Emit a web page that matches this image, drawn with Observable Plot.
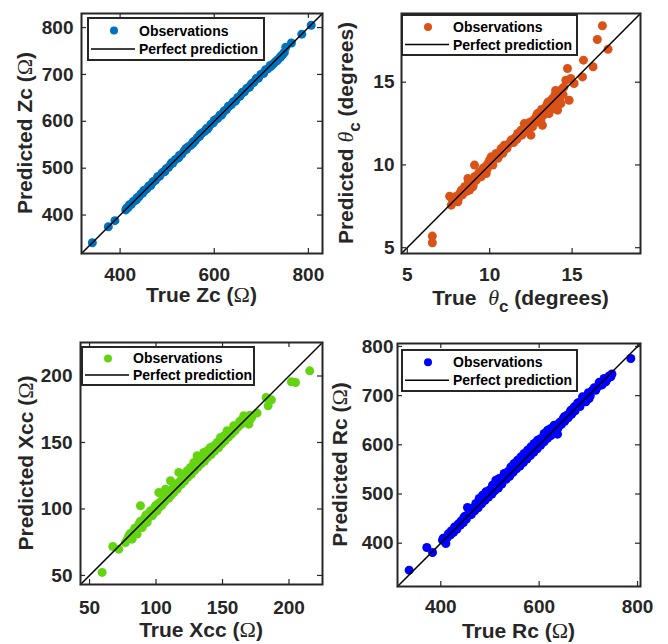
<!DOCTYPE html>
<html>
<head>
<meta charset="utf-8">
<script src="https://cdn.jsdelivr.net/npm/d3@7"></script>
<script src="https://cdn.jsdelivr.net/npm/@observablehq/plot@0.6"></script>
<style>
  html, body { margin: 0; padding: 0; background: #fff; }
  body { width: 668px; height: 644px; position: relative; overflow: hidden; font-family: "Liberation Sans", Arial, sans-serif; }
  .panel { position: absolute; width: 334px; height: 322px; }
  .panel svg { overflow: visible; }
</style>
</head>
<body>
<div id="p1" class="panel" style="left:0;top:0"></div>
<div id="p2" class="panel" style="left:334px;top:0"></div>
<div id="p3" class="panel" style="left:0;top:322px"></div>
<div id="p4" class="panel" style="left:334px;top:322px"></div>
<script>
// ---------------- DATA ----------------
// Panel 1: Zc (Ω)
const zcTrue = [341, 375, 389, 412, 414, 417, 420, 424, 428, 432, 436, 440, 444, 448, 452, 457, 461, 466, 470, 475, 480, 484, 489, 494, 498, 503, 508, 512, 517, 522, 526, 531, 536, 541, 545, 550, 555, 560, 564, 569, 574, 579, 583, 588, 593, 598, 602, 607, 612, 617, 621, 626, 631, 636, 640, 645, 650, 655, 659, 664, 669, 674, 679, 684, 689, 694, 699, 704, 709, 714, 719, 724, 727, 731, 735, 739, 743, 746, 749, 752, 764, 786, 806,
  420, 435, 450, 465, 480, 495, 510, 525, 540, 555, 570, 585, 600, 615, 630, 645, 660, 675, 690, 705, 720, 733, 741];
const zcPred = [341, 375, 388, 411, 415, 416, 421, 423, 429, 431, 437, 439, 445, 447, 453, 456, 462, 465, 471, 474, 481, 483, 490, 493, 499, 502, 509, 511, 518, 521, 527, 530, 537, 540, 546, 549, 556, 559, 565, 568, 575, 578, 584, 587, 594, 597, 603, 606, 613, 616, 622, 625, 632, 635, 641, 644, 651, 654, 660, 663, 670, 673, 680, 683, 690, 692, 700, 702, 710, 712, 719, 721, 724, 728, 731, 736, 740, 743, 747, 758, 767, 786, 805,
  422, 433, 452, 463, 482, 493, 512, 523, 542, 553, 572, 583, 602, 613, 632, 643, 662, 673, 692, 703, 717, 729, 737];

// Panel 2: θc (degrees)
const thetaTrue = [6.52, 6.52, 7.57, 7.67, 7.87, 8.07, 8.17, 8.28, 8.48, 8.68, 8.78, 8.98, 9.08, 9.18, 9.38, 9.48, 9.69, 9.79, 9.99, 10.09, 10.19, 10.39, 10.59, 10.69, 10.89, 11.09, 11.30, 11.50, 11.70, 11.90, 12.10, 12.20, 12.50, 12.60, 12.80, 12.91, 13.10, 13.20, 13.30, 13.50, 13.60, 13.80, 13.90, 14.00, 14.12, 14.20, 14.32, 14.40, 14.62, 14.72, 14.82, 14.92, 15.12, 15.63, 15.69, 16.27, 16.53, 16.84, 17.18,
  7.75, 7.95, 8.1, 8.35, 8.45, 8.6, 8.7, 8.85, 8.9, 9.0, 9.1, 9.25, 9.3, 9.45, 9.55, 9.6, 9.75, 9.85, 9.9, 10.0, 10.15, 10.25, 10.3, 10.45, 10.5, 10.65, 10.75, 10.8, 10.95, 11.05, 11.2, 11.35, 11.45, 11.6, 11.65, 11.8, 11.95, 12.05, 12.15, 12.3, 12.35, 12.45, 12.55, 12.7, 12.75, 12.85, 13.0, 13.05, 13.15, 13.25, 13.4, 13.45, 13.55, 13.7, 13.75, 13.85, 13.95, 14.05, 14.15, 14.25, 14.3, 14.45, 14.5];
const thetaPred = [5.70, 5.30, 8.11, 7.57, 7.97, 7.77, 8.27, 8.47, 8.68, 9.18, 8.48, 8.68, 9.99, 9.08, 9.58, 9.28, 9.78, 9.48, 10.29, 10.49, 9.99, 10.69, 10.59, 10.99, 11.19, 11.19, 11.50, 11.60, 11.90, 12.10, 12.50, 12.00, 11.80, 12.30, 12.80, 13.11, 12.70, 12.40, 13.30, 13.70, 13.10, 14.00, 13.40, 14.50, 13.31, 14.20, 13.71, 14.60, 15.12, 15.83, 13.91, 15.22, 14.92, 15.32, 16.33, 15.93, 17.58, 18.41, 16.99,
  7.85, 8.1, 7.95, 8.2, 8.55, 8.4, 8.9, 8.75, 9.1, 8.8, 9.3, 9.2, 9.45, 9.5, 9.6, 9.8, 9.9, 9.75, 10.1, 10.05, 10.3, 10.35, 10.5, 10.55, 10.4, 10.75, 10.9, 10.7, 11.05, 11.0, 11.3, 11.4, 11.35, 11.7, 11.55, 11.85, 11.8, 12.15, 12.3, 12.25, 12.5, 12.6, 12.45, 12.75, 12.55, 13.0, 12.9, 13.2, 13.35, 13.0, 13.5, 13.25, 13.8, 13.6, 13.9, 13.65, 14.2, 13.85, 14.4, 14.0, 14.5, 14.25, 14.7];

// Panel 3: Xcc (Ω)
const xccTrue = [59.5, 67.5, 72.0, 77.0, 79.5, 82.0, 83.3, 85.8, 87.1, 88.3, 89.6, 92.1, 93.3, 95.8, 97.1, 99.6, 100.8, 102.1, 103.4, 105.9, 107.1, 108.4, 110.9, 112.1, 114.6, 117.1, 118.4, 120.9, 123.4, 125.9, 128.4, 130.9, 133.4, 135.9, 138.4, 140.9, 143.4, 146.0, 148.5, 151.0, 153.5, 156.0, 158.5, 161.0, 163.5, 166.0, 167.3, 169.8, 171.0, 176.0, 182.8, 184.3, 186.8, 201.8, 204.9, 215.6,
  78.5, 80.5, 81.5, 84, 84.5, 86.5, 88, 89, 90.5, 91, 92.5, 94, 94.5, 96, 97.5, 98.5, 99, 101, 101.5, 102.5, 104, 104.5, 106, 106.5, 108, 109.5, 110, 111.5, 113, 113.5, 115.5, 116, 117.5, 119, 120, 121.5, 122.5, 124, 125, 126.5, 127.5, 129, 130, 131.5, 132.5, 134, 135, 136.5, 137.5, 139, 140, 141.5, 142.5, 144, 145, 147, 148, 149.5, 150.5, 152, 153, 154.5, 155.5, 157, 158, 159.5, 160.5, 162, 163, 164.5, 165, 168.5, 170.5, 172];
const xccPred = [52.3, 71.8, 69.8, 74.8, 79.8, 77.3, 83.6, 81.1, 88.6, 102.4, 86.1, 93.6, 89.9, 98.6, 94.9, 102.4, 98.6, 112.4, 104.9, 107.4, 114.9, 109.9, 121.2, 113.7, 118.7, 127.5, 121.2, 126.2, 128.7, 131.2, 134.9, 140.0, 138.7, 142.5, 143.7, 146.3, 147.5, 150.0, 153.8, 155.0, 158.8, 157.5, 162.6, 161.3, 163.8, 170.1, 166.3, 163.8, 167.6, 172.1, 183.8, 177.6, 182.1, 195.6, 195.1, 203.9,
  77.5, 81.5, 80, 85.5, 82.5, 86, 90.5, 87.5, 92, 89, 95.5, 93, 96.5, 95.5, 99, 97, 101, 100, 104, 101.5, 106, 103, 109, 105.5, 110.5, 108, 112.5, 110.5, 116, 112.5, 117, 115, 120, 118.5, 122, 121, 125, 124, 127, 126, 130, 129, 132, 131.5, 135, 134, 137, 136, 139.5, 139, 142, 141, 144, 143.5, 147, 146, 149.5, 149, 152, 151.5, 155, 154, 157, 156.5, 160, 159, 162.5, 162, 166, 164, 167.5, 168.5, 170.5, 169];

// Panel 4: Rc (Ω)
const rcTrue = [335.7, 371.6, 383.2, 403.5, 410.3, 417.0, 423.8, 430.6, 437.4, 444.1, 447.5, 454.3, 457.7, 464.5, 471.2, 478.0, 484.8, 491.6, 498.4, 505.1, 511.9, 518.7, 528.8, 535.6, 542.4, 549.2, 556.0, 562.7, 569.5, 576.3, 583.1, 589.8, 596.6, 603.4, 610.2, 617.0, 623.7, 630.5, 637.3, 644.0, 650.8, 657.6, 664.4, 671.2, 677.9, 688.1, 694.9, 701.6, 708.4, 718.6, 725.4, 735.5, 745.7, 786.3,
  405, 408, 413, 415, 420, 421, 426, 428, 433, 435, 440, 441, 446, 450, 452, 460, 462, 467, 469, 474, 476, 481, 483, 488, 490, 495, 497, 502, 504, 508, 510, 515, 517, 522, 524, 531, 533, 538, 540, 545, 547, 552, 554, 559, 561, 566, 568, 573, 575, 580, 582, 587, 589, 594, 596, 601, 603, 608, 610, 615, 617, 622, 624, 629, 631, 636, 638, 642, 645, 649, 652, 656, 659, 663, 666, 670, 673, 680, 683, 690, 692, 697, 700, 704, 712, 715, 722, 728, 732, 738, 742, 748];
const rcPred = [345.2, 391.3, 381.1, 406.2, 399.4, 416.4, 423.1, 429.9, 440.1, 446.8, 453.6, 472.6, 463.8, 470.6, 480.7, 490.9, 497.7, 504.4, 507.8, 518.0, 528.2, 531.6, 541.7, 545.1, 555.3, 562.0, 568.8, 575.6, 582.4, 589.2, 595.9, 602.7, 609.5, 612.9, 623.0, 629.8, 633.2, 640.0, 621.7, 646.8, 656.9, 660.3, 670.5, 677.2, 684.0, 697.6, 687.4, 694.2, 711.1, 717.9, 721.3, 728.1, 738.2, 775.5,
  410, 404, 411, 419, 417, 425, 422, 433, 429, 438, 437, 445, 442, 455, 449, 462, 458, 472, 466, 478, 472, 486, 480, 492, 487, 500, 494, 509, 500, 513, 507, 520, 512, 528, 520, 536, 530, 543, 536, 550, 544, 557, 551, 564, 557, 571, 564, 578, 571, 585, 578, 592, 585, 599, 592, 606, 599, 613, 606, 620, 613, 627, 619, 634, 626, 641, 633, 646, 641, 653, 648, 660, 655, 667, 662, 674, 669, 686, 678, 693, 696, 700, 706, 700, 716, 711, 727, 722, 735, 733, 740, 744];

// Tick values
const zcTicksX = [400, 600, 800];
const zcTicksY = [400, 500, 600, 700, 800];
const thetaTicks = [5, 10, 15];
const xccTicks = [50, 100, 150, 200];
const rcTicksX = [400, 600, 800];
const rcTicksY = [400, 500, 600, 700, 800];

// Legend texts
const legendLabels = ["Observations", "Perfect prediction"];

// ---------------- RENDER ----------------
const INK = "#262626";
const SANS = "'Liberation Sans', Arial, Helvetica, sans-serif";
const SERIF = "'Liberation Serif', 'DejaVu Serif', serif";

function appendRich(textSel, parts) {
  parts.forEach(p => {
    const ts = textSel.append("tspan").text(p.t);
    if (p.omega) ts.attr("font-family", SERIF).attr("font-weight", "normal").attr("font-size", "22px");
    if (p.theta) ts.attr("font-family", SERIF).attr("font-weight", "normal").attr("font-style", "italic").attr("font-size", "22px");
    if (p.sub) ts.attr("dy", 7).attr("font-size", "17px");
    if (p.after) ts.attr("dy", -7);
  });
}

function panel(cfg) {
  const {el, tv, pv, color, domain, ticksX, ticksY, m, padX, padY, xParts, yParts, xLab, yLab, lg} = cfg;
  const W = 334, H = 322;
  const fw = W - m.l - m.r, fh = H - m.t - m.b;
  const data = tv.map((t, i) => ({t, p: pv[i]}));
  const diag = [domain[0], domain[1]];
  const chart = Plot.plot({
    width: W, height: H,
    marginLeft: m.l, marginRight: m.r, marginTop: m.t, marginBottom: m.b,
    x: {domain, label: null},
    y: {domain, label: null},
    style: {fontFamily: SANS, fontSize: "19px", fontWeight: "bold", color: INK, background: "transparent", overflow: "visible"},
    marks: [
      Plot.dot(data, {x: "t", y: "p", r: 4.5, fill: color, stroke: "none"}),
      Plot.line(diag, {x: d => d, y: d => d, stroke: "#000", strokeWidth: 1.5}),
      // inward ticks on all four sides
      Plot.ruleX(ticksX, {x: d => d, insetTop: fh - 5, stroke: INK, strokeWidth: 1.2}),
      Plot.ruleX(ticksX, {x: d => d, insetBottom: fh - 5, stroke: INK, strokeWidth: 1.2}),
      Plot.ruleY(ticksY, {y: d => d, insetRight: fw - 5, stroke: INK, strokeWidth: 1.2}),
      Plot.ruleY(ticksY, {y: d => d, insetLeft: fw - 5, stroke: INK, strokeWidth: 1.2}),
      Plot.axisX(ticksX, {tickSize: 0, tickPadding: padX, label: null, fill: INK}),
      Plot.axisY(ticksY, {tickSize: 0, tickPadding: padY, label: null, fill: INK}),
      Plot.frame({stroke: INK, strokeWidth: 2})
    ]
  });
  document.getElementById(el).appendChild(chart);
  const svg = d3.select(chart);

  // axis titles
  const xt = svg.append("text")
    .attr("x", m.l + fw / 2).attr("y", xLab)
    .attr("text-anchor", "middle")
    .attr("font-family", SANS).attr("font-weight", "bold").attr("font-size", "21px")
    .attr("fill", INK).style("white-space", "pre");
  appendRich(xt, xParts);
  const yt = svg.append("text")
    .attr("transform", `translate(${yLab},${m.t + fh / 2}) rotate(-90)`)
    .attr("text-anchor", "middle")
    .attr("font-family", SANS).attr("font-weight", "bold").attr("font-size", "21px")
    .attr("fill", INK).style("white-space", "pre");
  appendRich(yt, yParts);

  // legend
  const g = svg.append("g").attr("transform", `translate(${m.l + lg.x},${m.t + lg.y})`);
  g.append("rect").attr("width", lg.w).attr("height", lg.h)
    .attr("fill", "#fff").attr("stroke", INK).attr("stroke-width", 2);
  const y1 = lg.h * 0.3, y2 = lg.h * 0.74;
  g.append("circle").attr("cx", 26).attr("cy", y1).attr("r", 4).attr("fill", color);
  g.append("line").attr("x1", 3).attr("x2", 47).attr("y1", y2).attr("y2", y2)
    .attr("stroke", "#000").attr("stroke-width", 1.5);
  [y1, y2].forEach((yy, i) => {
    g.append("text").attr("x", 51).attr("y", yy + 5)
      .attr("text-anchor", "start")
      .attr("font-family", SANS).attr("font-weight", "bold").attr("font-size", "14px")
      .attr("fill", "#000").text(legendLabels[i]);
  });
}

panel({
  el: "p1", tv: zcTrue, pv: zcPred, color: "#0072BD", domain: [318, 830],
  ticksX: zcTicksX, ticksY: zcTicksY,
  m: {l: 81, r: 12, t: 13, b: 69}, padX: 14, padY: 8,
  xParts: [{t: "True Zc ("}, {t: "Ω", omega: true}, {t: ")"}],
  yParts: [{t: "Predicted Zc ("}, {t: "Ω", omega: true}, {t: ")"}],
  xLab: 302, yLab: 32,
  lg: {x: 7, y: 5, w: 176, h: 42}
});

panel({
  el: "p2", tv: thetaTrue, pv: thetaPred, color: "#D95319", domain: [4.65, 19.15],
  ticksX: thetaTicks, ticksY: thetaTicks,
  m: {l: 67, r: 28, t: 13, b: 69}, padX: 14, padY: 7,
  xParts: [{t: "True  "}, {t: "θ", theta: true}, {t: "c", sub: true}, {t: " (degrees)", after: true}],
  yParts: [{t: "Predicted "}, {t: "θ", theta: true}, {t: "c", sub: true}, {t: " (degrees)", after: true}],
  xLab: 305, yLab: 19,
  lg: {x: 1, y: 2, w: 175, h: 40}
});

panel({
  el: "p3", tv: xccTrue, pv: xccPred, color: "#64D412", domain: [43.2, 225.2],
  ticksX: xccTicks, ticksY: xccTicks,
  m: {l: 80, r: 12, t: 20, b: 60}, padX: 16, padY: 8,
  xParts: [{t: "True Xcc ("}, {t: "Ω", omega: true}, {t: ")"}],
  yParts: [{t: "Predicted Xcc ("}, {t: "Ω", omega: true}, {t: ")"}],
  xLab: 315, yLab: 33,
  lg: {x: 2, y: 5, w: 172, h: 38}
});

panel({
  el: "p4", tv: rcTrue, pv: rcPred, color: "#0000FF", domain: [312, 806],
  ticksX: rcTicksX, ticksY: rcTicksY,
  m: {l: 63, r: 28, t: 21, b: 58}, padX: 13, padY: 4,
  xParts: [{t: "True Rc ("}, {t: "Ω", omega: true}, {t: ")"}],
  yParts: [{t: "Predicted Rc ("}, {t: "Ω", omega: true}, {t: ")"}],
  xLab: 316, yLab: 13,
  lg: {x: 5, y: 7, w: 175, h: 41}
});
</script>
</body>
</html>
